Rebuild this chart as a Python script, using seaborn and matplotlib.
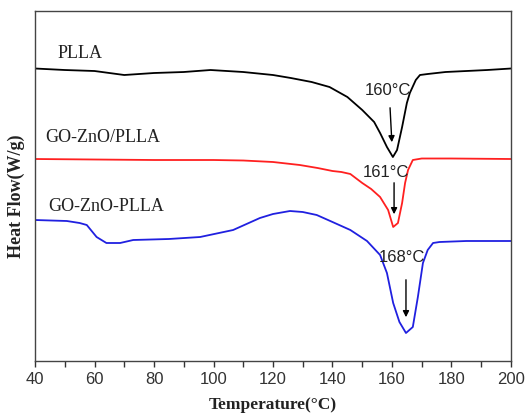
import seaborn as sns
import matplotlib.pyplot as plt
from matplotlib.ticker import MultipleLocator

sns.set_theme(style="ticks")
plt.rcParams["font.family"] = ["Liberation Sans", "DejaVu Sans"]

# DSC curves (heat flow in arbitrary units, offset)
t_plla = [40, 50, 60, 70, 80, 90, 99, 110, 120, 126, 133, 139, 145, 150, 154, 156,
          158.3, 160.3, 161.7, 163.4, 165, 166, 168, 169.4, 172, 178, 185, 192, 200]
hf_plla = [29.25, 29.1, 29.0, 28.6, 28.8, 28.9, 29.1, 28.9, 28.6, 28.3, 27.9, 27.4,
           26.4, 25.1, 23.9, 22.8, 21.4, 20.4, 21.1, 23.4, 25.8, 26.8, 28.1, 28.6,
           28.7, 28.9, 29.0, 29.1, 29.25]

t_red = [40, 60, 80, 100, 110, 120, 129, 135, 140, 143, 146, 150, 153, 156, 158.7,
         160.4, 162, 163.4, 164.4, 165.4, 167, 170, 180, 200]
hf_red = [20.2, 20.15, 20.1, 20.1, 20.05, 19.9, 19.6, 19.3, 19.0, 18.9, 18.7, 17.8,
          17.2, 16.4, 15.1, 13.4, 13.8, 15.8, 17.8, 19.1, 20.1, 20.25, 20.25, 20.2]

t_blue = [40, 50.7, 55, 57.4, 60.7, 64, 68.6, 73, 85, 95.5, 106.6, 115.6, 120, 125.7,
          130, 134.7, 140, 146, 151.6, 156, 158.3, 160.4, 162.5, 164.7, 167, 168.7,
          170.4, 172, 173.8, 176, 185, 200]
hf_blue = [14.1, 14.0, 13.8, 13.6, 12.4, 11.8, 11.8, 12.1, 12.2, 12.4, 13.1, 14.3,
           14.7, 15.0, 14.9, 14.6, 13.9, 13.1, 12.0, 10.6, 8.8, 5.8, 3.9, 2.8, 3.4,
           6.4, 9.8, 11.1, 11.8, 11.9, 12.0, 12.0]

labels = ["PLLA", "GO-ZnO/PLLA", "GO-ZnO-PLLA"]
peaks = ["160°C", "161°C", "168°C"]

fig = plt.figure(figsize=(5.25, 4.17), dpi=100)
ax = fig.add_axes([0.0667, 0.1343, 0.9066, 0.8393])

sns.lineplot(x=t_plla, y=hf_plla, color="black", lw=1.3, ax=ax)
sns.lineplot(x=t_red, y=hf_red, color="#ff2020", lw=1.3, ax=ax)
sns.lineplot(x=t_blue, y=hf_blue, color="#2020e0", lw=1.3, ax=ax)

ax.set_xlim(40, 200)
ax.set_ylim(0, 35)
ax.xaxis.set_major_locator(MultipleLocator(20))
ax.xaxis.set_minor_locator(MultipleLocator(10))
ax.tick_params(axis="x", which="both", direction="out", length=4, width=1,
               colors="#333333", labelcolor="#333333", labelsize=12, pad=4)
ax.set_yticks([])
for s in ax.spines.values():
    s.set_color("#444444")
    s.set_linewidth(1)

ax.set_xlabel("Temperature(°C)", family="Liberation Serif", fontweight="bold",
              fontsize=12.5, color="#222222", labelpad=7)
ax.set_ylabel("Heat Flow(W/g)", family="Liberation Serif", fontweight="bold",
              fontsize=13, color="#222222")
ax.yaxis.set_label_coords(-0.022, 0.47)

# curve names
for name, (x, y) in zip(labels, [(47.4, 30.8), (43.4, 22.4), (44.4, 15.5)]):
    ax.text(x, y, name, family="Liberation Serif", fontsize=13, color="#222222",
            va="center", ha="left")

# peak annotations
arrow = dict(arrowstyle="-|>", color="black", lw=1, mutation_scale=9)
spots = [((158.8, 27.1), (159.3, 25.6), (160.0, 21.6)),
         ((158.0, 18.9), (160.7, 18.1), (160.7, 14.4)),
         ((163.4, 10.4), (164.7, 8.4), (164.7, 4.1))]
for txt, (tp, a0, a1) in zip(peaks, spots):
    ax.text(tp[0], tp[1], txt, fontsize=12, color="#222222", ha="center", va="center")
    ax.annotate("", xy=a1, xytext=a0, arrowprops=arrow)

fig.savefig("out.png", dpi=100)
